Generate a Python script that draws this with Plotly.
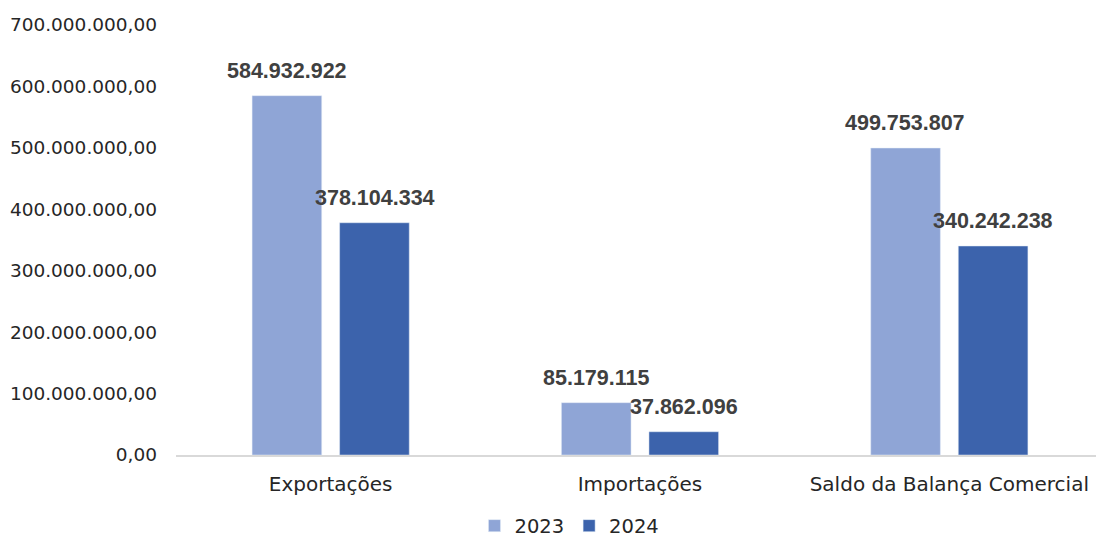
import plotly.graph_objects as go

categories = ["Exportações", "Importações", "Saldo da Balança Comercial"]
series_names = ["2023", "2024"]
values_2023 = [584932922, 85179115, 499753807]
values_2024 = [378104334, 37862096, 340242238]
tick_values = [0, 100e6, 200e6, 300e6, 400e6, 500e6, 600e6, 700e6]
tick_labels = ["0,00", "100.000.000,00", "200.000.000,00", "300.000.000,00",
               "400.000.000,00", "500.000.000,00", "600.000.000,00", "700.000.000,00"]
colors = ["#8FA5D6", "#3C63AC"]


def fmt(v):
    return f"{v:,.0f}".replace(",", ".")


fig = go.Figure()
for name, vals, col in zip(series_names, [values_2023, values_2024], colors):
    fig.add_trace(go.Bar(
        x=categories, y=vals, name=name, marker_color=col,
        hoverinfo="skip",
    ))

# data labels as annotations above each bar
offsets = [-44, 44]
for vals, xs in zip([values_2023, values_2024], offsets):
    for c, v in zip(categories, vals):
        fig.add_annotation(
            x=c, y=v, xref="x", yref="y", text=fmt(v), showarrow=False,
            xshift=xs, yshift=11, yanchor="bottom",
            font=dict(family="Liberation Sans", size=21.5, color="#404040", weight="bold"),
        )

fig.update_layout(
    width=1096, height=532,
    margin=dict(l=168, r=0, t=17, b=85, autoexpand=False),
    paper_bgcolor="white", plot_bgcolor="white",
    barmode="group", bargap=0.434, bargroupgap=0.2045,
    font=dict(family="DejaVu Sans", size=18, color="#262626"),
    showlegend=True,
    legend=dict(orientation="h", x=0.424, xanchor="center", y=-0.165, yanchor="middle",
                font=dict(size=19.5, color="#262626"), traceorder="normal",
                itemwidth=30, tracegroupgap=0),
    xaxis=dict(showline=True, linecolor="#D9D9D9", linewidth=2, ticks="",
               showgrid=False, tickfont=dict(size=20), automargin=False,
               ticklabelstandoff=10),
    yaxis=dict(range=[0, 700e6], tickvals=tick_values, ticktext=tick_labels,
               showgrid=False, zeroline=False, showline=False, ticks="",
               ticklabelstandoff=18, tickfont=dict(size=18.5), automargin=False),
)

fig.write_html("out.html")
